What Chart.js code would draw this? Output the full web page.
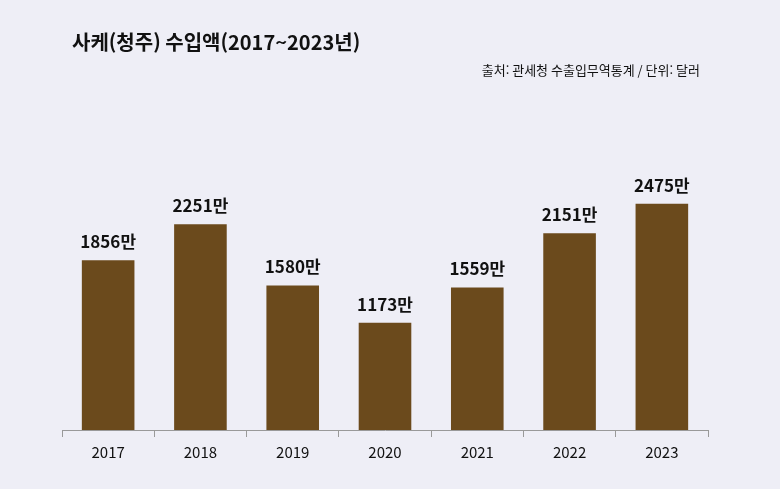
<!DOCTYPE html>
<html lang="ko">
<head>
<meta charset="UTF-8">
<script src="https://cdn.jsdelivr.net/npm/chart.js"></script>
<style>
  body { margin: 0; background: #eeeef6; }
  #wrap { width: 780px; height: 489px; }
</style>
</head>
<body>
<div id="wrap"><canvas id="chart"></canvas></div>
<script>
const years = ['2017', '2018', '2019', '2020', '2021', '2022', '2023'];
const values = [1856, 2251, 1580, 1173, 1559, 2151, 2475];
const titleText = '사케(청주) 수입액(2017~2023년)';
const sourceText = '출처: 관세청 수출입무역통계 / 단위: 달러';
const FONT = "'Noto Sans CJK KR', 'Noto Sans', sans-serif";

// 제목, 출처, 막대 위 값 표시
const decor = {
  id: 'decor',
  afterDraw(chart) {
    const ctx = chart.ctx;
    ctx.save();
    ctx.fillStyle = '#111';
    ctx.textBaseline = 'middle';
    ctx.textAlign = 'left';
    ctx.font = 'bold 20px ' + FONT;
    ctx.fillText(titleText, 72, 42);
    ctx.textAlign = 'right';
    ctx.font = '13px ' + FONT;
    ctx.fillText(sourceText, 700, 70);
    ctx.textAlign = 'center';
    ctx.textBaseline = 'bottom';
    ctx.font = 'bold 17px ' + FONT;
    chart.getDatasetMeta(0).data.forEach((bar, i) => {
      ctx.fillText(values[i] + '만', bar.x, bar.y - 10);
    });
    ctx.restore();
  }
};

new Chart(document.getElementById('chart'), {
  type: 'bar',
  data: {
    labels: years,
    datasets: [{ data: values, backgroundColor: '#6b4a1c', barPercentage: 0.57, categoryPercentage: 1 }]
  },
  options: {
    responsive: true,
    maintainAspectRatio: false,
    animation: false,
    layout: { padding: { top: 174, left: 62, right: 72, bottom: 22 } },
    plugins: { legend: { display: false }, tooltip: { enabled: false } },
    scales: {
      x: {
        grid: { display: true, drawOnChartArea: false, offset: true, tickLength: 7, color: '#999' },
        border: { color: '#999' },
        ticks: { color: '#111', font: { size: 15, family: FONT }, padding: 6 }
      },
      y: { display: false, min: 0, max: 2800 }
    }
  },
  plugins: [decor]
});
</script>
</body>
</html>
